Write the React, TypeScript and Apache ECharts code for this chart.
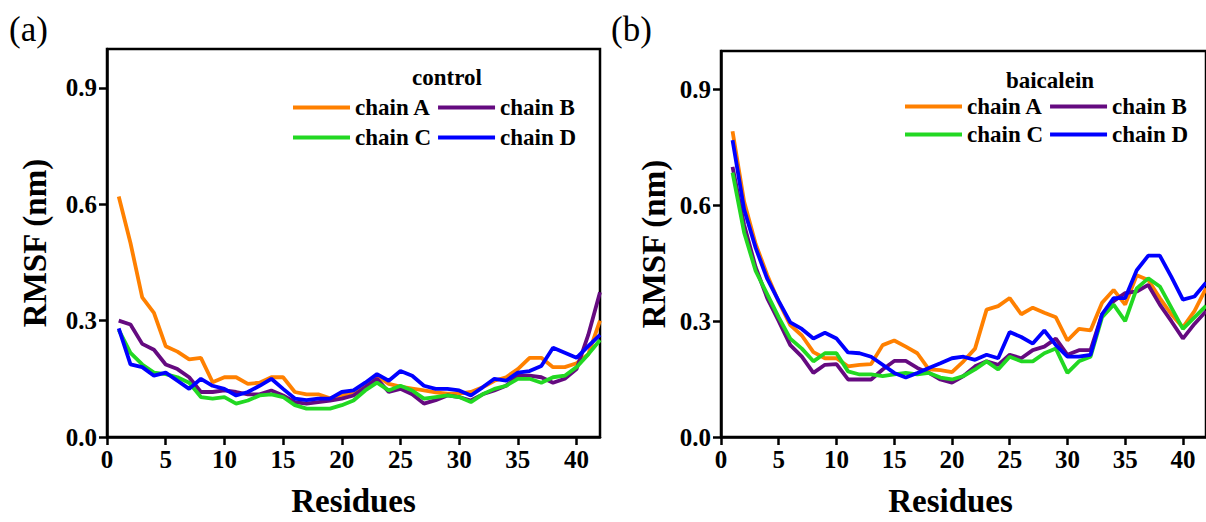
import React, { useEffect, useRef } from "react";
import * as echarts from "echarts";

const residues = [1,2,3,4,5,6,7,8,9,10,11,12,13,14,15,16,17,18,19,20,21,22,23,24,25,26,27,28,29,30,31,32,33,34,35,36,37,38,39,40,41,42];

const controlA = [0.62,0.50,0.36,0.32,0.234,0.22,0.20,0.204,0.141,0.154,0.154,0.137,0.14,0.154,0.154,0.116,0.11,0.11,0.10,0.107,0.116,0.137,0.158,0.137,0.13,0.125,0.12,0.115,0.112,0.112,0.116,0.128,0.145,0.154,0.175,0.204,0.204,0.18,0.18,0.19,0.213,0.30];
const controlB = [0.30,0.29,0.24,0.225,0.187,0.175,0.154,0.116,0.116,0.12,0.116,0.11,0.11,0.12,0.107,0.09,0.086,0.09,0.094,0.099,0.107,0.128,0.15,0.116,0.124,0.11,0.086,0.095,0.107,0.103,0.094,0.11,0.12,0.132,0.158,0.158,0.154,0.14,0.15,0.175,0.263,0.373];
const controlC = [0.276,0.217,0.187,0.166,0.162,0.154,0.14,0.103,0.099,0.103,0.086,0.094,0.107,0.11,0.103,0.082,0.073,0.073,0.073,0.082,0.094,0.12,0.14,0.12,0.132,0.12,0.099,0.103,0.107,0.103,0.09,0.11,0.124,0.132,0.15,0.15,0.14,0.154,0.158,0.18,0.213,0.25];
const controlD = [0.28,0.187,0.18,0.158,0.166,0.145,0.124,0.15,0.132,0.124,0.107,0.116,0.132,0.15,0.124,0.099,0.095,0.099,0.099,0.116,0.12,0.14,0.162,0.145,0.17,0.158,0.132,0.124,0.124,0.12,0.107,0.128,0.15,0.145,0.166,0.17,0.183,0.23,0.217,0.204,0.234,0.263];

const baicaleinA = [0.792,0.61,0.50,0.42,0.35,0.29,0.263,0.22,0.204,0.204,0.183,0.187,0.189,0.238,0.25,0.234,0.217,0.175,0.173,0.168,0.196,0.229,0.33,0.339,0.36,0.318,0.335,0.322,0.31,0.25,0.28,0.276,0.348,0.381,0.343,0.419,0.407,0.36,0.318,0.284,0.326,0.385];
const baicaleinB = [0.70,0.55,0.44,0.36,0.30,0.238,0.208,0.166,0.187,0.189,0.149,0.149,0.149,0.175,0.197,0.197,0.179,0.166,0.149,0.141,0.158,0.183,0.196,0.187,0.213,0.204,0.225,0.234,0.255,0.213,0.225,0.225,0.318,0.352,0.373,0.377,0.394,0.343,0.30,0.255,0.293,0.326];
const baicaleinC = [0.685,0.53,0.43,0.37,0.31,0.255,0.229,0.196,0.217,0.217,0.17,0.162,0.162,0.158,0.162,0.166,0.162,0.166,0.154,0.149,0.158,0.175,0.196,0.175,0.208,0.196,0.196,0.217,0.229,0.166,0.196,0.208,0.31,0.343,0.30,0.385,0.411,0.39,0.335,0.28,0.31,0.34];
const baicaleinD = [0.769,0.59,0.49,0.41,0.352,0.297,0.28,0.255,0.27,0.255,0.219,0.217,0.208,0.187,0.166,0.154,0.166,0.179,0.191,0.204,0.208,0.2,0.213,0.204,0.272,0.259,0.242,0.276,0.238,0.208,0.208,0.213,0.318,0.36,0.36,0.432,0.47,0.47,0.415,0.356,0.364,0.40];

const chainNames = ["chain A", "chain B", "chain C", "chain D"];
const chainColors = ["#FF8000", "#650A80", "#22D822", "#0000FF"];
const xTicks = [0, 5, 10, 15, 20, 25, 30, 35, 40];
const yTicks = [0, 0.3, 0.6, 0.9];
const panelTitles = ["control", "baicalein"];
const panelLetters = ["(a)", "(b)"];

const FONT = "Liberation Serif";

function App() {
  const ref = useRef<HTMLDivElement>(null);
  useEffect(() => {
    if (!ref.current) return;
    const chart = echarts.init(ref.current, null, { renderer: "svg" });
    const panels = [
      [controlA, controlB, controlC, controlD],
      [baicaleinA, baicaleinB, baicaleinC, baicaleinD],
    ];
    const grids = [
      { left: 107, top: 49, width: 493, height: 395 },
      { left: 721, top: 51, width: 489, height: 395 },
    ];
    const xAxes = grids.map((g, i) => ({
      type: "value",
      gridIndex: i,
      min: 0,
      max: 42,
      name: "Residues",
      nameLocation: "middle",
      nameGap: 47,
      nameTextStyle: { fontFamily: FONT, fontWeight: "bold", fontSize: 33, color: "#000", padding: i === 1 ? [0, 26, 0, 0] : 0 },
      axisLine: { show: true, onZero: false, lineStyle: { color: "#000", width: 2.5 } },
      axisTick: { show: true, inside: false, length: 8, customValues: xTicks, lineStyle: { color: "#000", width: 2.5 } },
      axisLabel: { customValues: xTicks, fontFamily: FONT, fontWeight: "bold", fontSize: 25, color: "#000", margin: 10 },
      splitLine: { show: false },
    }));
    const yAxes = grids.map((g, i) => ({
      type: "value",
      gridIndex: i,
      min: 0,
      max: 1.0,
      name: "RMSF (nm)",
      nameLocation: "middle",
      nameRotate: 90,
      nameGap: i === 0 ? 56 : 51,
      nameTextStyle: { fontFamily: FONT, fontWeight: "bold", fontSize: 33, color: "#000" },
      axisLine: { show: true, onZero: false, lineStyle: { color: "#000", width: 2.5 } },
      axisTick: { show: true, inside: false, length: 8, customValues: yTicks, lineStyle: { color: "#000", width: 2.5 } },
      axisLabel: { customValues: yTicks, formatter: (v: number) => v.toFixed(1), fontFamily: FONT, fontWeight: "bold", fontSize: 25, color: "#000", margin: 10 },
      splitLine: { show: false },
    }));
    const series: any[] = [];
    panels.forEach((vals, p) => {
      vals.forEach((arr, k) => {
        series.push({
          type: "line",
          name: chainNames[k],
          xAxisIndex: p,
          yAxisIndex: p,
          data: residues.map((r, idx) => [r, arr[idx]]),
          showSymbol: false,
          symbol: "none",
          color: chainColors[k],
          lineStyle: { color: chainColors[k], width: 3.8 },
          z: 2 + k,
        });
      });
    });
    const legendBase = {
      icon: "rect",
      itemWidth: 57,
      itemHeight: 4,
      itemGap: 7,
      padding: 0,
      orient: "horizontal",
      selectedMode: false,
      textStyle: { fontFamily: FONT, fontWeight: "bold", fontSize: 23, color: "#000" },
    };
    const legends = [
      { ...legendBase, left: 293, top: 96, data: ["chain A", "chain B"] },
      { ...legendBase, left: 293, top: 126, data: ["chain C", "chain D"] },
      { ...legendBase, left: 905, top: 95, data: ["chain A", "chain B"] },
      { ...legendBase, left: 905, top: 123, data: ["chain C", "chain D"] },
    ];
    const titleStyle = { fontFamily: FONT, fontWeight: "bold", fontSize: 23, fill: "#000", textAlign: "center", textVerticalAlign: "middle" };
    const letterStyle = { fontFamily: FONT, fontWeight: "normal", fontSize: 35, fill: "#000", textAlign: "left", textVerticalAlign: "middle" };
    chart.setOption({
      animation: false,
      backgroundColor: "#fff",
      grid: grids.map((g) => ({ ...g, show: true, borderColor: "#000", borderWidth: 2.5, backgroundColor: "transparent", containLabel: false })),
      xAxis: xAxes,
      yAxis: yAxes,
      legend: legends,
      series,
      graphic: [
        { type: "text", x: 447, y: 77, style: { ...titleStyle, text: panelTitles[0] } },
        { type: "text", x: 1050, y: 80, style: { ...titleStyle, text: panelTitles[1] } },
        { type: "text", x: 9, y: 29, style: { ...letterStyle, text: panelLetters[0] } },
        { type: "text", x: 611, y: 29, style: { ...letterStyle, text: panelLetters[1] } },
      ],
    });
    return () => chart.dispose();
  }, []);
  return <div ref={ref} style={{ position: "fixed", left: 0, top: 0, width: 1206, height: 522 }} />;
}

export default App;
